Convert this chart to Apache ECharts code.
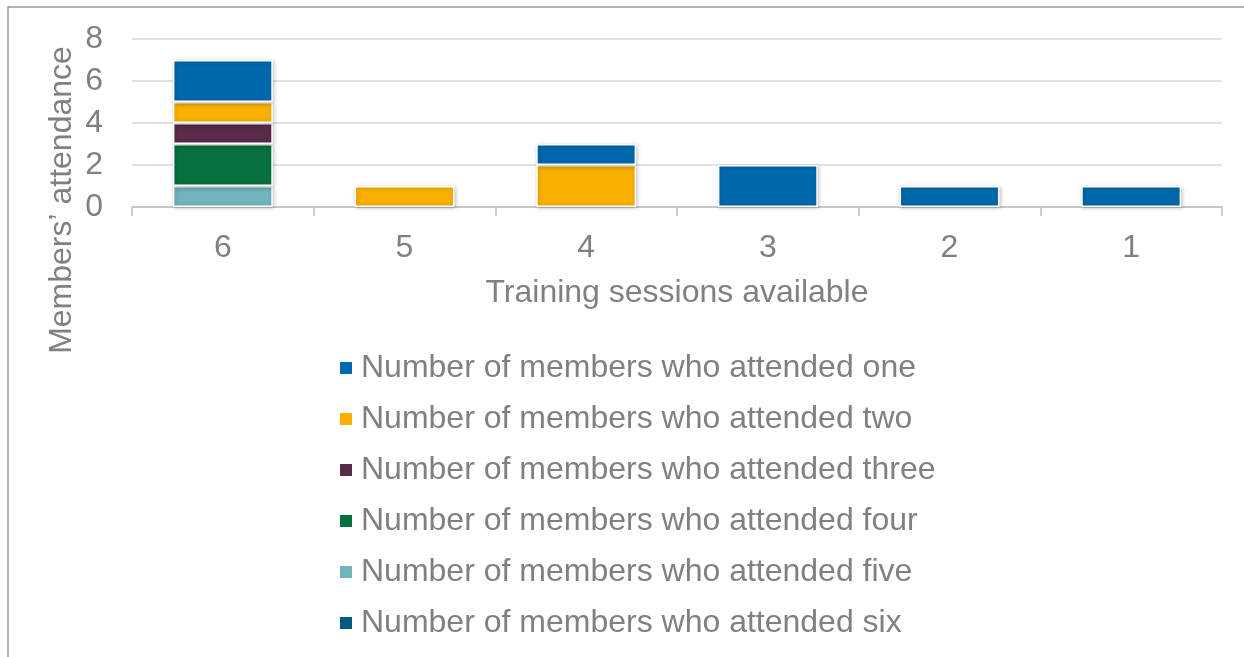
<!DOCTYPE html>
<html>
<head>
<meta charset="utf-8">
<script src="https://cdn.jsdelivr.net/npm/echarts@6/dist/echarts.min.js"></script>
<style>
html,body{margin:0;padding:0;background:#fff;}
#c{width:1244px;height:657px;}
</style>
</head>
<body>
<div id="c"></div>
<script>
const categories = ['6', '5', '4', '3', '2', '1'];
const seriesNames = [
  'Number of members who attended one',
  'Number of members who attended two',
  'Number of members who attended three',
  'Number of members who attended four',
  'Number of members who attended five',
  'Number of members who attended six'
];
const attendedOne   = [2, 0, 1, 2, 1, 1];
const attendedTwo   = [1, 1, 2, 0, 0, 0];
const attendedThree = [1, 0, 0, 0, 0, 0];
const attendedFour  = [2, 0, 0, 0, 0, 0];
const attendedFive  = [1, 0, 0, 0, 0, 0];
const attendedSix   = [0, 0, 0, 0, 0, 0];
const colors = ['#0068AC', '#F9B000', '#5A2A4B', '#08703F', '#72B4BC', '#005C7F'];
const yTicks = [0, 2, 4, 6, 8];
const yAxisTitle = 'Members’ attendance';
const xAxisTitle = 'Training sessions available';

const values = [attendedOne, attendedTwo, attendedThree, attendedFour, attendedFive, attendedSix];
const textColor = '#808080';
const font = 'Liberation Sans, Arial, sans-serif';
const fs = 32;

// stacking: "six" at bottom, "one" on top
const series = [];
for (let i = values.length - 1; i >= 0; i--) {
  series.push({
    name: seriesNames[i],
    type: 'bar',
    stack: 'total',
    barWidth: '55%',
    data: values[i].map(v => v === 0 ? null : v),
    itemStyle: {
      color: colors[i],
      borderColor: '#ffffff',
      borderWidth: 1.5,
      shadowColor: 'rgba(0,0,0,0.25)',
      shadowBlur: 4,
      shadowOffsetX: 1,
      shadowOffsetY: 1
    }
  });
}

const chart = echarts.init(document.getElementById('c'), null, {renderer: 'canvas'});
chart.setOption({
  animation: false,
  color: colors,
  graphic: [{
    type: 'rect',
    shape: {x: 8, y: 7, width: 1400, height: 800},
    style: {fill: 'none', stroke: '#9a9a9a', lineWidth: 1.5},
    z: -10
  }, {
    type: 'text',
    x: 62,
    y: 200,
    rotation: Math.PI / 2,
    style: {
      text: yAxisTitle,
      fill: textColor,
      fontSize: fs,
      fontFamily: font,
      align: 'center',
      verticalAlign: 'middle'
    }
  }],
  grid: {left: 132, right: 22, top: 39, height: 168, containLabel: false, outerBoundsMode: 'none'},
  legend: {
    orient: 'vertical',
    left: 333,
    top: 347,
    data: seriesNames,
    icon: 'rect',
    itemWidth: 14,
    itemHeight: 14,
    itemGap: 19,
    textStyle: {color: textColor, fontSize: fs, fontFamily: font, lineHeight: 32, padding: [0, 0, 0, 3]}
  },
  xAxis: {
    type: 'category',
    data: categories,
    name: xAxisTitle,
    nameLocation: 'middle',
    nameGap: 70,
    nameTextStyle: {color: textColor, fontSize: fs, fontFamily: font},
    axisLine: {show: true, lineStyle: {color: '#bfbfbf', width: 1.5}},
    axisTick: {show: true, length: 9, alignWithLabel: false, lineStyle: {color: '#bfbfbf', width: 1.5}},
    axisLabel: {color: textColor, fontSize: fs, fontFamily: font, margin: 25}
  },
  yAxis: {
    type: 'value',
    min: yTicks[0],
    max: yTicks[yTicks.length - 1],
    interval: yTicks[1] - yTicks[0],
    axisLine: {show: false},
    axisTick: {show: false},
    splitLine: {show: true, lineStyle: {color: '#d9d9d9', width: 1.5}},
    axisLabel: {color: textColor, fontSize: fs, fontFamily: font, margin: 29}
  },
  series: series
});
</script>
</body>
</html>
